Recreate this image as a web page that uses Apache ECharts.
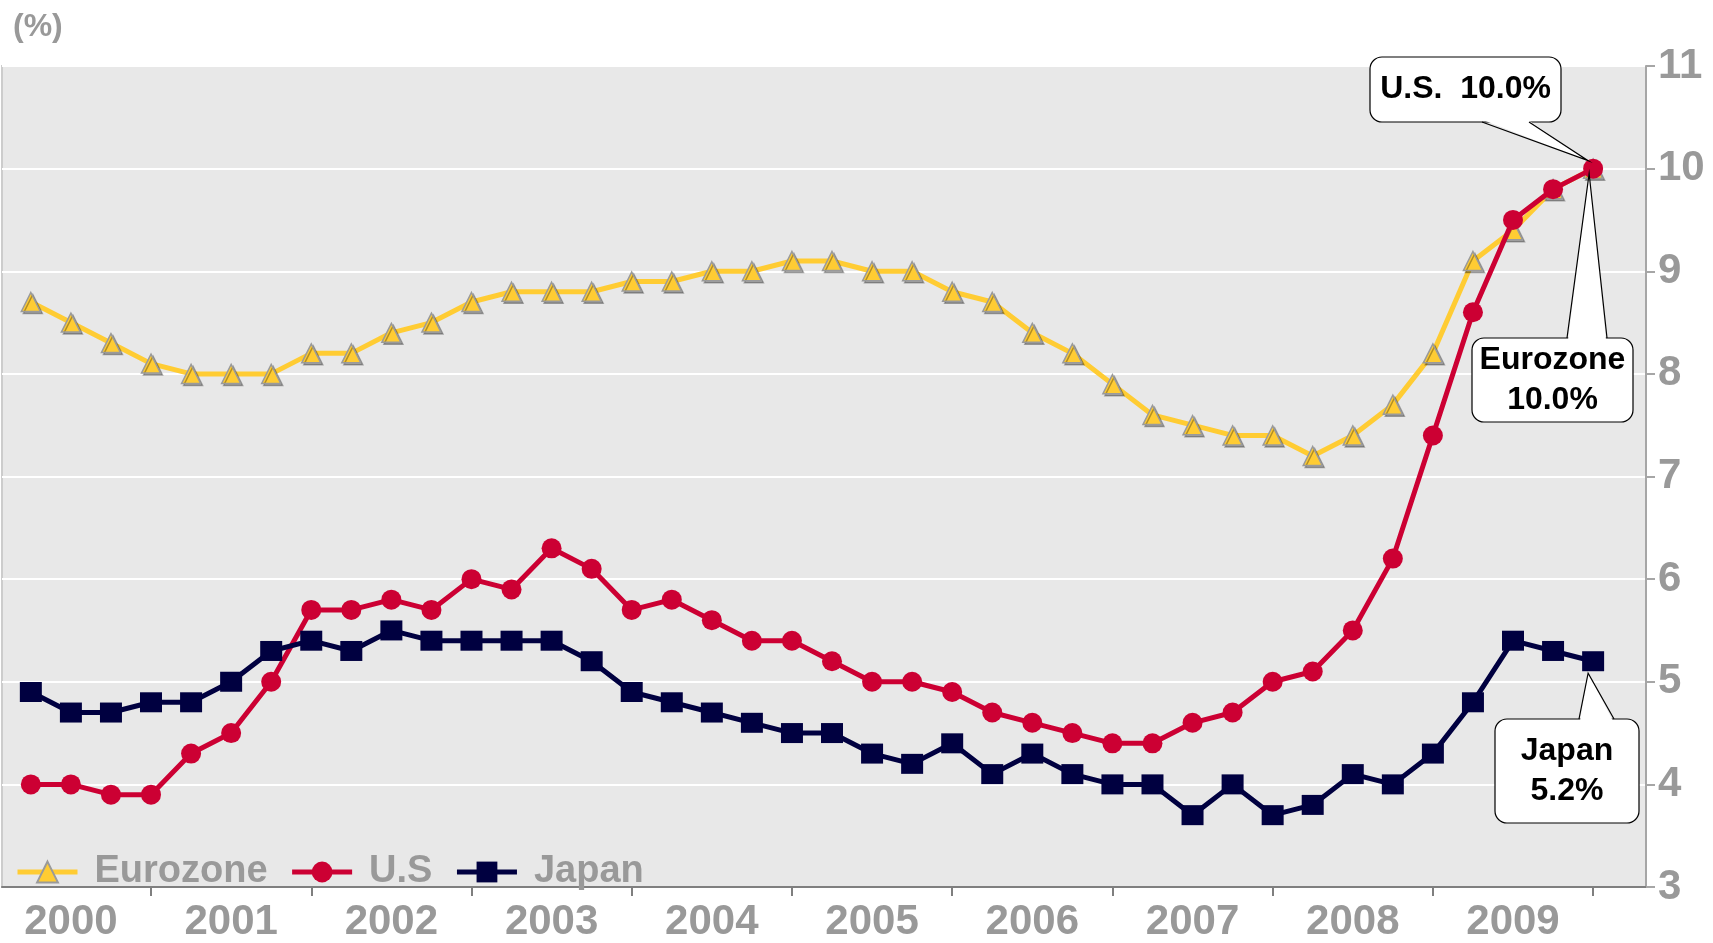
<!DOCTYPE html>
<html>
<head>
<meta charset="utf-8">
<script src="https://cdn.jsdelivr.net/npm/echarts@6/dist/echarts.min.js"></script>
<style>
  html, body { margin: 0; padding: 0; background: #fff; }
  #main { width: 1713px; height: 943px; }
</style>
</head>
<body>
<div id="main"></div>
<script>
  // quarterly unemployment rate, 2000Q1 .. 2009Q4
  var years = ['2000', '2001', '2002', '2003', '2004', '2005', '2006', '2007', '2008', '2009'];
  var eurozone = [8.7, 8.5, 8.3, 8.1, 8.0, 8.0, 8.0, 8.2, 8.2, 8.4, 8.5, 8.7, 8.8, 8.8, 8.8, 8.9, 8.9, 9.0, 9.0, 9.1,
                  9.1, 9.0, 9.0, 8.8, 8.7, 8.4, 8.2, 7.9, 7.6, 7.5, 7.4, 7.4, 7.2, 7.4, 7.7, 8.2, 9.1, 9.4, 9.8, 10.0];
  var us = [4.0, 4.0, 3.9, 3.9, 4.3, 4.5, 5.0, 5.7, 5.7, 5.8, 5.7, 6.0, 5.9, 6.3, 6.1, 5.7, 5.8, 5.6, 5.4, 5.4,
            5.2, 5.0, 5.0, 4.9, 4.7, 4.6, 4.5, 4.4, 4.4, 4.6, 4.7, 5.0, 5.1, 5.5, 6.2, 7.4, 8.6, 9.5, 9.8, 10.0];
  var japan = [4.9, 4.7, 4.7, 4.8, 4.8, 5.0, 5.3, 5.4, 5.3, 5.5, 5.4, 5.4, 5.4, 5.4, 5.2, 4.9, 4.8, 4.7, 4.6, 4.5,
               4.5, 4.3, 4.2, 4.4, 4.1, 4.3, 4.1, 4.0, 4.0, 3.7, 4.0, 3.7, 3.8, 4.1, 4.0, 4.3, 4.8, 5.4, 5.3, 5.2];

  var font = 'Liberation Sans, Arial, sans-serif';
  var gray = '#999999';

  function toPoints(arr) {
    return arr.map(function (v, i) { return [i, v]; });
  }

  // year label in the middle of each year, tick at year end
  var labelPos = years.map(function (y, i) { return i * 4 + 1; });
  var tickPos = years.map(function (y, i) { return i * 4 + 3; });

  var chart = echarts.init(document.getElementById('main'));

  chart.setOption({
    animation: false,
    backgroundColor: '#fff',
    title: {
      text: '(%)',
      left: 8,
      top: 6,
      textStyle: { color: gray, fontSize: 32, fontWeight: 'bold', fontFamily: font }
    },
    grid: {
      left: 2, right: 67, top: 66, bottom: 54,
      show: true,
      backgroundColor: '#e8e8e8',
      borderColor: '#cccccc',
      borderWidth: 2
    },
    legend: {
      left: 10,
      top: 848,
      itemWidth: 60,
      itemHeight: 26,
      itemGap: 22,
      lineStyle: { width: 5 },
      textStyle: { color: gray, fontSize: 38, fontWeight: 'bold', fontFamily: font, padding: [0, 0, 0, 12] },
      data: ['Eurozone', 'U.S', 'Japan']
    },
    xAxis: {
      type: 'value',
      min: -0.72,
      max: 40.32,
      axisLine: { show: true, onZero: false, lineStyle: { color: '#7f7f7f', width: 2 } },
      axisTick: { show: true, customValues: tickPos, length: 9, lineStyle: { color: '#7f7f7f', width: 2 } },
      splitLine: { show: false },
      axisLabel: {
        customValues: labelPos,
        margin: 14,
        color: gray,
        fontSize: 42,
        fontWeight: 'bold',
        fontFamily: font,
        formatter: function (v) { return years[Math.round((v - 1) / 4)]; }
      }
    },
    yAxis: {
      type: 'value',
      position: 'right',
      min: 3,
      max: 11,
      interval: 1,
      axisLine: { show: true, onZero: false, lineStyle: { color: '#a6a6a6', width: 2 } },
      axisTick: { show: true, length: 9, lineStyle: { color: '#a6a6a6', width: 2 } },
      splitLine: { lineStyle: { color: '#ffffff', width: 2 } },
      axisLabel: {
        margin: 12,
        color: gray,
        fontSize: 42,
        fontWeight: 'bold',
        fontFamily: font
      }
    },
    series: [
      {
        name: 'Eurozone',
        type: 'line',
        data: toPoints(eurozone),
        symbol: 'triangle',
        symbolSize: 19,
        lineStyle: { color: '#ffcc33', width: 5 },
        itemStyle: {
          color: '#ffcc33', borderColor: '#9a9a9a', borderWidth: 1.5,
          shadowColor: 'rgba(0,0,0,0.3)', shadowOffsetX: 2, shadowOffsetY: 2
        },
        z: 2
      },
      {
        name: 'U.S',
        type: 'line',
        data: toPoints(us),
        symbol: 'circle',
        symbolSize: 20,
        lineStyle: { color: '#cc0033', width: 5 },
        itemStyle: { color: '#cc0033', borderColor: '#cc0033', borderWidth: 0 },
        z: 3
      },
      {
        name: 'Japan',
        type: 'line',
        data: toPoints(japan),
        symbol: 'rect',
        symbolSize: [22, 20],
        lineStyle: { color: '#000040', width: 5 },
        itemStyle: { color: '#000040', borderWidth: 0 },
        z: 4
      }
    ]
  });

  // callout boxes pointing at the last point of each line
  function callout(pt, tipOff, box, baseX, baseY, label) {
    var tip = [pt[0] + tipOff[0], pt[1] + tipOff[1]];
    var inside = baseY === box.y ? baseY + 2 : baseY - 2;
    return [
      {
        type: 'rect', z: 100,
        shape: { x: box.x, y: box.y, width: box.w, height: box.h, r: 12 },
        style: { fill: '#fff', stroke: '#000', lineWidth: 1.2 }
      },
      {
        type: 'polygon', z: 101,
        shape: { points: [[baseX[0] + 1, inside], tip, [baseX[1] - 1, inside]] },
        style: { fill: '#fff', stroke: null }
      },
      {
        type: 'polyline', z: 102,
        shape: { points: [[baseX[0], baseY], tip, [baseX[1], baseY]] },
        style: { fill: null, stroke: '#000', lineWidth: 1.2 }
      },
      {
        type: 'text', z: 103,
        x: box.x + box.w / 2,
        y: box.y + box.h / 2,
        style: {
          text: label,
          align: 'center',
          verticalAlign: 'middle',
          fill: '#000',
          font: 'bold 32px ' + font,
          lineHeight: 40
        }
      }
    ];
  }

  var last = years.length * 4 - 1;
  var pUS = chart.convertToPixel({ gridIndex: 0 }, [last, us[last]]);
  var pEU = chart.convertToPixel({ gridIndex: 0 }, [last, eurozone[last]]);
  var pJP = chart.convertToPixel({ gridIndex: 0 }, [last, japan[last]]);

  var elems = []
    .concat(callout(pUS, [-5, -8], { x: 1370, y: 57, w: 191, h: 65 }, [1482, 1529], 122,
      'U.S.  ' + us[last].toFixed(1) + '%'))
    .concat(callout(pEU, [-4, 5], { x: 1472, y: 338, w: 161, h: 84 }, [1567, 1607], 338,
      'Eurozone\n' + eurozone[last].toFixed(1) + '%'))
    .concat(callout(pJP, [-5, 12], { x: 1495, y: 719, w: 144, h: 104 }, [1579, 1614], 719,
      'Japan\n' + japan[last].toFixed(1) + '%'));

  chart.setOption({ graphic: elems });
</script>
</body>
</html>
